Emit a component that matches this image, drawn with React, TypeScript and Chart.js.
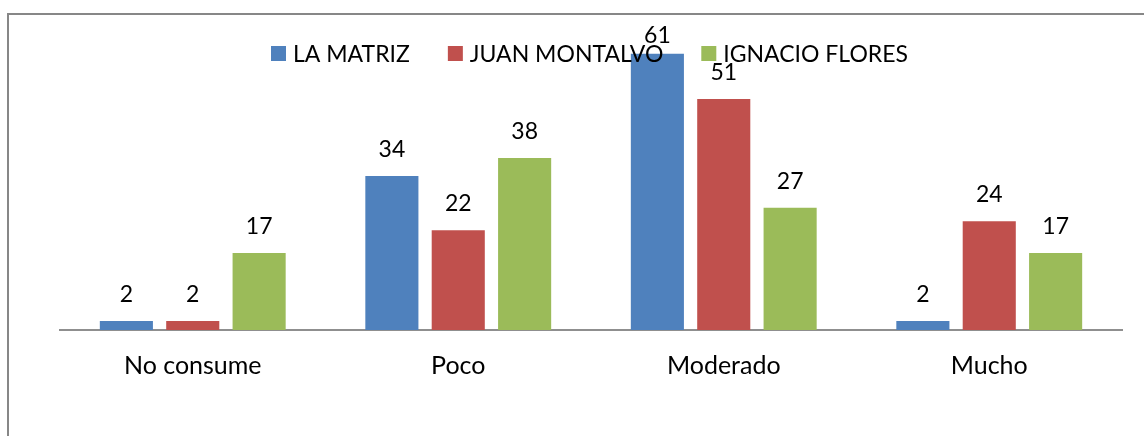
import React, { useEffect, useRef } from "react";
import { Chart, registerables } from "chart.js";

Chart.register(...registerables);

const categories = ["No consume", "Poco", "Moderado", "Mucho"];
const seriesNames = ["LA MATRIZ", "JUAN MONTALVO", "IGNACIO FLORES"];
const laMatriz = [2, 34, 61, 2];
const juanMontalvo = [2, 22, 51, 24];
const ignacioFlores = [17, 38, 27, 17];
const seriesColors = ["#4F81BD", "#C0504D", "#9BBB59"];
const yMin = 0;
const yMax = 70;

const FONT_FAMILY = "Lato, 'Liberation Sans', sans-serif";
const FONT_SIZE = 23;
const CAT_FONT_SIZE = 25;

const framePlugin = {
  id: "frame",
  beforeDraw(chart: any) {
    const ctx = chart.ctx;
    ctx.save();
    ctx.fillStyle = "#ffffff";
    ctx.fillRect(0, 0, chart.width, chart.height);
    ctx.strokeStyle = "#878787";
    ctx.lineWidth = 2;
    ctx.beginPath();
    ctx.moveTo(8, chart.height);
    ctx.lineTo(8, 14);
    ctx.lineTo(chart.width, 14);
    ctx.stroke();
    ctx.restore();
  },
};

const labelsPlugin = {
  id: "valueLabels",
  afterDraw(chart: any) {
    const ctx = chart.ctx;
    ctx.save();
    ctx.font = `${FONT_SIZE}px ${FONT_FAMILY}`;
    ctx.fillStyle = "#000000";
    ctx.textAlign = "center";
    ctx.textBaseline = "alphabetic";
    chart.data.datasets.forEach((ds: any, di: number) => {
      const meta = chart.getDatasetMeta(di);
      meta.data.forEach((bar: any, i: number) => {
        const y = Math.max(bar.y - 19, chart.chartArea.top + 30);
        ctx.fillText(String(ds.data[i]), bar.x, y);
      });
    });

    // legend overlay
    let x = 271;
    const squareTop = 46;
    const sq = 15;
    chart.data.datasets.forEach((ds: any) => {
      ctx.fillStyle = ds.backgroundColor;
      ctx.fillRect(x, squareTop, sq, sq);
      x += sq + 7;
      ctx.fillStyle = "#000000";
      ctx.textAlign = "left";
      ctx.fillText(ds.label, x, 62);
      x += ctx.measureText(ds.label).width + 38;
    });
    ctx.restore();
  },
};

export default function App() {
  const canvasRef = useRef<HTMLCanvasElement | null>(null);

  useEffect(() => {
    if (!canvasRef.current) return;
    const values = [laMatriz, juanMontalvo, ignacioFlores];
    const chart = new Chart(canvasRef.current, {
      type: "bar",
      data: {
        labels: categories,
        datasets: seriesNames.map((name, i) => ({
          label: name,
          data: values[i],
          backgroundColor: seriesColors[i],
          borderWidth: 0,
          categoryPercentage: 0.75,
          barPercentage: 0.8,
        })),
      },
      options: {
        animation: false,
        responsive: false,
        maintainAspectRatio: false,
        layout: { padding: { left: 60, right: 22, top: 13, bottom: 0 } },
        plugins: {
          legend: { display: false },
          tooltip: { enabled: false },
        },
        scales: {
          x: {
            grid: { display: false, drawTicks: false },
            border: { display: true, color: "#8f8f8f", width: 2 },
            ticks: {
              color: "#000000",
              font: { family: FONT_FAMILY, size: CAT_FONT_SIZE },
              padding: 21,
              maxRotation: 0,
              autoSkip: false,
            },
            afterFit(scale: any) {
              scale.height = 106;
            },
          },
          y: {
            display: false,
            min: yMin,
            max: yMax,
          },
        },
      },
      plugins: [framePlugin, labelsPlugin],
    });
    return () => chart.destroy();
  }, []);

  return (
    <div style={{ position: "fixed", left: 0, top: 0, width: 1144, height: 436 }}>
      <canvas ref={canvasRef} width={1144} height={436} style={{ display: "block" }} />
    </div>
  );
}
